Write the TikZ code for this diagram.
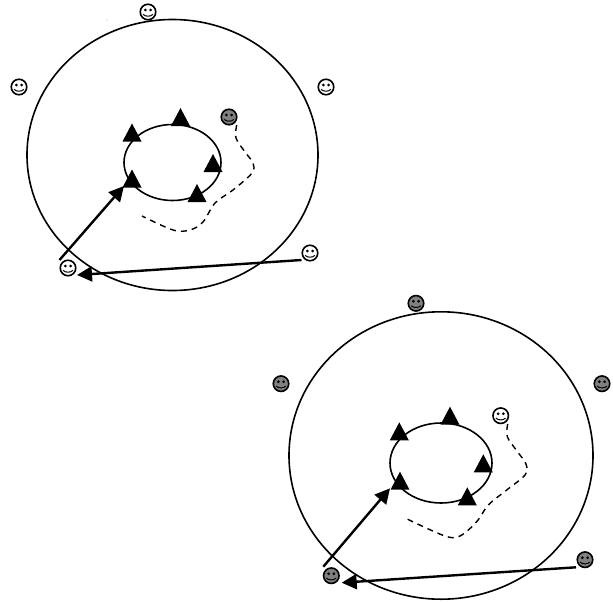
\documentclass[tikz,border=0pt]{standalone}
\usetikzlibrary{arrows.meta}
\newcommand{\tri}[3]{\coordinate (#1) at (#2,#3); \fill (#1) -- ++(-9.5,18) -- ++(19,0) -- cycle;}
\tikzset{
  ring/.style={draw,line width=1.6pt},
  move/.style={line width=2.4pt,-{Triangle[length=15pt,width=15pt]}},
  walk/.style={line width=1.4pt,dash pattern=on 6pt off 5pt},
  face/.style={circle,draw,line width=1.6pt,minimum size=15.5pt,inner sep=0pt,
    path picture={
      \fill[black] ([shift={(-2.6pt,2pt)}]path picture bounding box.center) circle (1.5pt);
      \fill[black] ([shift={(2.6pt,2pt)}]path picture bounding box.center) circle (1.5pt);
      \draw[black,line width=1pt] ([shift={(-4.8pt,-2.4pt)}]path picture bounding box.center)
        .. controls +(2pt,-2.4pt) and +(-2pt,-2.4pt) .. ([shift={(4.8pt,-2.4pt)}]path picture bounding box.center);
    }},
  lightface/.style={face,fill=white},
  darkface/.style={face,fill=black!50},
}
\begin{document}
\begin{tikzpicture}[x=1pt,y=-1pt]
\useasboundingbox (0,0) rectangle (613,602);
% upper diagram
\draw[ring] (172.5,155) ellipse [x radius=145.5,y radius=135.5];
\draw[ring] (172.5,162.5) ellipse [x radius=48.5,y radius=38];
\tri{ta1}{180.5}{108}
\tri{ta2}{132}{123.5}
\tri{ta3}{132}{169.5}
\tri{ta4}{213}{154}
\tri{ta5}{197}{184}
\node[lightface] (fa1) at (148,12) {};
\node[lightface] (fa2) at (19,87) {};
\node[lightface] (fa3) at (326,87) {};
\node[darkface] (fa4) at (229,117) {};
\node[lightface] (fa5) at (310,253) {};
\node[lightface] (fa6) at (68,268) {};
\coordinate (sa1) at (59.5,260);
\coordinate (ea1) at (124,186);
\coordinate (sa2) at (301.5,260);
\coordinate (ea2) at (77,275);
\draw[move] (sa1) -- (ea1);
\draw[move] (sa2) -- (ea2);
\draw[walk] plot[smooth,tension=.55] coordinates {(236.7,125) (236,138) (245,152) (253,163) (252,173) (233,190) (215,203) (203,222) (190,230) (173,230) (142,216)};
\fill[black!50] (107,20) circle (.5);
% lower diagram
\draw[ring] (441,455.5) ellipse [x radius=152,y radius=143.7];
\draw[ring] (441,463) ellipse [x radius=51,y radius=40];
\tri{tb1}{450}{406.7}
\tri{tb2}{399.3}{422.3}
\tri{tb3}{400}{471.7}
\tri{tb4}{483.3}{454.3}
\tri{tb5}{467.3}{487.3}
\node[darkface] (fb1) at (416,303.3) {};
\node[darkface] (fb2) at (281,383.7) {};
\node[darkface] (fb3) at (602,383.7) {};
\node[lightface] (fb4) at (500.7,415.7) {};
\node[darkface] (fb5) at (585,559.7) {};
\node[darkface] (fb6) at (331.3,575.7) {};
\coordinate (sb1) at (323.3,566.7);
\coordinate (eb1) at (390,488.3);
\coordinate (sb2) at (576,567.3);
\coordinate (eb2) at (341.7,582.7);
\draw[move] (sb1) -- (eb1);
\draw[move] (sb2) -- (eb2);
\draw[walk] plot[smooth,tension=.55] coordinates {(507.7,424) (507.3,436.7) (516.7,450.7) (526,464) (525,475) (506.7,490) (488.3,505) (476.7,521.7) (460,536) (445,536) (407.7,519.3)};
\end{tikzpicture}
\end{document}
